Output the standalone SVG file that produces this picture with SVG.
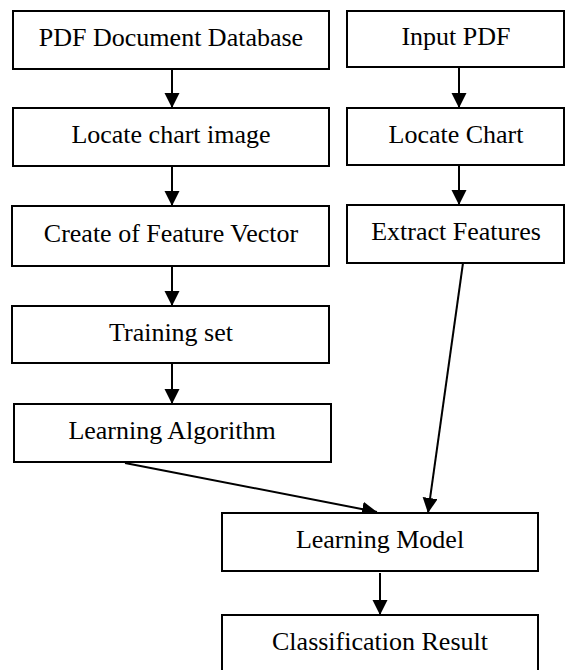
<svg xmlns="http://www.w3.org/2000/svg" width="566" height="670" viewBox="0 0 566 670">
<style>
  .box { fill: #ffffff; stroke: #000000; stroke-width: 2; }
  .lbl { font-family: "Liberation Serif", "Times New Roman", serif; font-size: 26px; fill: #000000; text-anchor: middle; }
  .edge { stroke: #000000; stroke-width: 2; fill: none; marker-end: url(#arrow); }
</style>
<defs>
  <marker id="arrow" markerUnits="userSpaceOnUse" markerWidth="16" markerHeight="16" viewBox="0 0 16 16" refX="15" refY="7.5" orient="auto">
    <path d="M0,0 L15,7.5 L0,15 z" fill="#000000"/>
  </marker>
</defs>
<rect width="566" height="670" fill="#ffffff"/>
<g id="connectors">
  <line class="edge" x1="172" y1="69" x2="172" y2="108"/>
  <line class="edge" x1="172" y1="166" x2="172" y2="206"/>
  <line class="edge" x1="172" y1="266" x2="172" y2="306"/>
  <line class="edge" x1="172" y1="363" x2="172" y2="404"/>
  <line class="edge" x1="459" y1="67" x2="459" y2="108"/>
  <line class="edge" x1="459" y1="165" x2="459" y2="205"/>
  <line class="edge" x1="125" y1="463" x2="377" y2="512"/>
  <line class="edge" x1="463" y1="263" x2="428" y2="513"/>
  <line class="edge" x1="380" y1="573" x2="380" y2="615"/>
</g>
<g id="pdf-db">
  <rect class="box" x="13" y="11" width="316" height="58"/>
  <text class="lbl" x="171" y="46">PDF Document Database</text>
</g>
<g id="locate-chart-image">
  <rect class="box" x="13" y="108" width="316" height="58"/>
  <text class="lbl" x="171" y="143">Locate chart image</text>
</g>
<g id="feature-vector">
  <rect class="box" x="12" y="206" width="317" height="60"/>
  <text class="lbl" x="171" y="242">Create of Feature Vector</text>
</g>
<g id="training-set">
  <rect class="box" x="12" y="306" width="317" height="57"/>
  <text class="lbl" x="171" y="341">Training set</text>
</g>
<g id="learning-algorithm">
  <rect class="box" x="14" y="404" width="317" height="58"/>
  <text class="lbl" x="172" y="439">Learning Algorithm</text>
</g>
<g id="input-pdf">
  <rect class="box" x="347" y="11" width="217" height="56"/>
  <text class="lbl" x="456" y="45">Input PDF</text>
</g>
<g id="locate-chart">
  <rect class="box" x="347" y="108" width="217" height="57"/>
  <text class="lbl" x="456" y="143">Locate Chart</text>
</g>
<g id="extract-features">
  <rect class="box" x="347" y="205" width="217" height="58"/>
  <text class="lbl" x="456" y="240">Extract Features</text>
</g>
<g id="learning-model">
  <rect class="box" x="222" y="513" width="316" height="58"/>
  <text class="lbl" x="380" y="548">Learning Model</text>
</g>
<g id="classification-result">
  <rect class="box" x="222" y="615" width="316" height="70"/>
  <text class="lbl" x="380" y="650">Classification Result</text>
</g>
</svg>
